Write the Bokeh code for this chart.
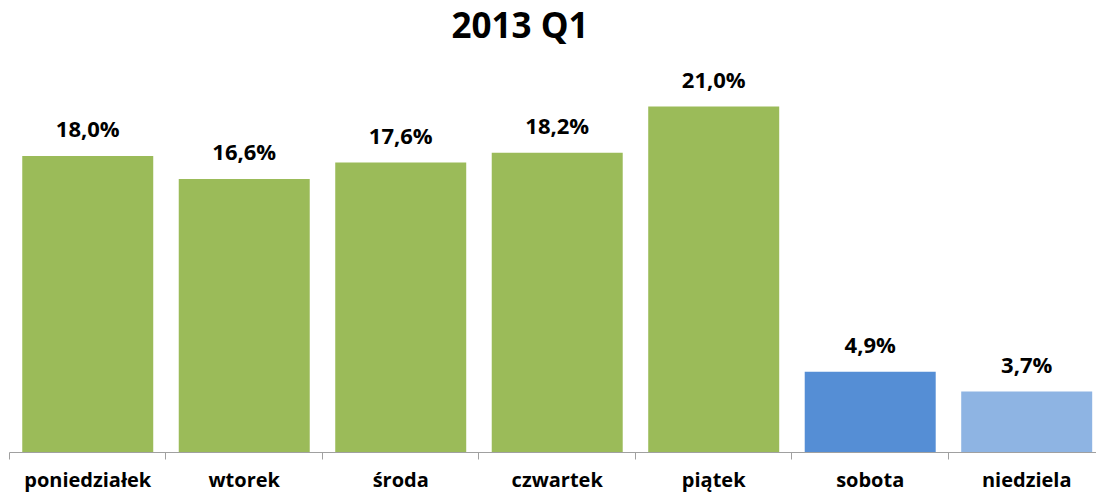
from bokeh.plotting import figure
from bokeh.models import ColumnDataSource, FixedTicker, Range1d
from bokeh.core.properties import value
from bokeh.embed import file_html
from bokeh.resources import INLINE

categories = ["poniedziałek", "wtorek", "środa", "czwartek", "piątek", "sobota", "niedziela"]
values = [18.0, 16.6, 17.6, 18.2, 21.0, 4.9, 3.7]
colors = ["#9BBB59", "#9BBB59", "#9BBB59", "#9BBB59", "#9BBB59", "#558ED5", "#8EB4E3"]
labels = ["18,0%", "16,6%", "17,6%", "18,2%", "21,0%", "4,9%", "3,7%"]
title_text = "2013 Q1"

centers = [i + 0.5 for i in range(len(categories))]
bounds = [float(i) for i in range(len(categories) + 1)]

src = ColumnDataSource(dict(x=centers, top=values, color=colors, label=labels))

FONT = "Open Sans"
p = figure(width=1096, height=495, output_backend="svg", toolbar_location=None,
           x_range=Range1d(0, 6.946), y_range=Range1d(0, 24.46),
           min_border_left=9, min_border_right=0, min_border_bottom=43, min_border_top=0)
p.title.text = title_text
p.title.align = "left"
p.title.offset = 442
p.title.vertical_align = "top"
p.title.standoff = 0
p.title.text_font = FONT
p.title.text_font_size = "35px"
p.title.text_font_style = "bold"
p.title.text_color = "#000000"

p.vbar(x="x", top="top", width=0.837, bottom=0, color="color", source=src, line_color=None)
p.text(x="x", y="top", text="label", source=src, text_align="center",
       text_baseline="alphabetic", y_offset=-28, text_font=value(FONT),
       text_font_size="22px", text_font_style="bold", text_color="#000000")

p.xaxis.ticker = FixedTicker(ticks=centers, minor_ticks=bounds)
p.xaxis.major_label_overrides = {c: n for c, n in zip(centers, categories)}
p.xaxis.major_label_text_font = FONT
p.xaxis.major_label_text_font_size = "20px"
p.xaxis.major_label_text_font_style = "bold"
p.xaxis.major_label_text_color = "#000000"
p.xaxis.major_label_standoff = 6
p.xaxis.major_tick_line_color = None
p.xaxis.major_tick_out = 0
p.xaxis.major_tick_in = 0
p.xaxis.minor_tick_line_color = "#A0A0A0"
p.xaxis.minor_tick_out = 7
p.xaxis.minor_tick_in = 0
p.xaxis.axis_line_color = "#A0A0A0"

p.yaxis.visible = False
p.xgrid.visible = False
p.ygrid.visible = False
p.outline_line_color = None

open("out.html", "w").write(file_html(p, INLINE))
